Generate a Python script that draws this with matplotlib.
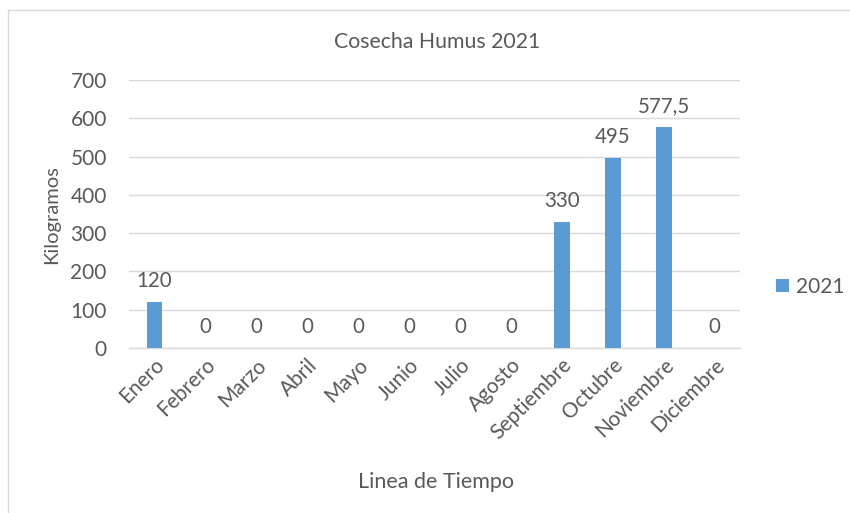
import matplotlib
matplotlib.use("Agg")
import matplotlib.pyplot as plt
from matplotlib.patches import Rectangle

months = ["Enero", "Febrero", "Marzo", "Abril", "Mayo", "Junio", "Julio",
          "Agosto", "Septiembre", "Octubre", "Noviembre", "Diciembre"]
values = [120, 0, 0, 0, 0, 0, 0, 0, 330, 495, 577.5, 0]
labels = ["120", "0", "0", "0", "0", "0", "0", "0", "330", "495", "577,5", "0"]
yticks = [0, 100, 200, 300, 400, 500, 600, 700]
series_name = "2021"

plt.rcParams['font.family'] = ['Lato', 'DejaVu Sans']
txt = "#595959"
W, H = 850, 513
fig = plt.figure(figsize=(W/100, H/100), dpi=100)
fig.patch.set_facecolor("white")

# chart border
fig.patches.append(Rectangle((8/W, -0.1), 1.0, 1 - 10/H + 0.1, transform=fig.transFigure,
                             fill=False, edgecolor="#D9D9D9", linewidth=1.0))

ax = fig.add_axes([129/W, 1 - 348/H, (740-129)/W, (348-80)/H])
x = list(range(len(months)))
bars = ax.bar(x, values, width=0.31, color="#5B9BD5", label=series_name, zorder=3)
ax.set_xlim(-0.5, len(months) - 0.5)
ax.set_ylim(0, 700)
ax.set_yticks(yticks)
ax.set_yticklabels([str(v) for v in yticks], fontsize=15, color=txt)
ax.set_xticks(x)
ax.set_xticklabels(months, rotation=45, ha="right", rotation_mode="anchor",
                   fontsize=15, color=txt)
ax.tick_params(axis="y", length=0, pad=16)
ax.tick_params(axis="x", length=0, pad=5)
ax.grid(axis="y", color="#D9D9D9", linewidth=1.0, zorder=0)
for s in ["top", "right", "left"]:
    ax.spines[s].set_visible(False)
ax.spines["bottom"].set_color("#D9D9D9")
ax.spines["bottom"].set_linewidth(1.0)

for xi, v, lab in zip(x, values, labels):
    ax.annotate(lab, (xi, v), xytext=(0, 8), textcoords="offset points",
                ha="center", va="bottom", fontsize=14.8, color=txt)

fig.text(52/W, 1 - 215/H, "Kilogramos", rotation=90, ha="center", va="center",
         fontsize=14.5, color=txt)
fig.text(437/W, 1 - 42/H, "Cosecha Humus 2021", ha="center", va="center",
         fontsize=15.3, color=txt)
fig.text(436/W, 1 - 482/H, "Linea de Tiempo", ha="center", va="center",
         fontsize=15.5, color=txt)

leg = fig.legend(handles=[bars], labels=[series_name], loc="center left",
                 bbox_to_anchor=(776/W, 1 - 287/H), frameon=False, fontsize=15,
                 handlelength=0.6, handleheight=0.6, handletextpad=0.35,
                 borderpad=0, borderaxespad=0)
for t in leg.get_texts():
    t.set_color(txt)

fig.savefig("out.png", dpi=100)
